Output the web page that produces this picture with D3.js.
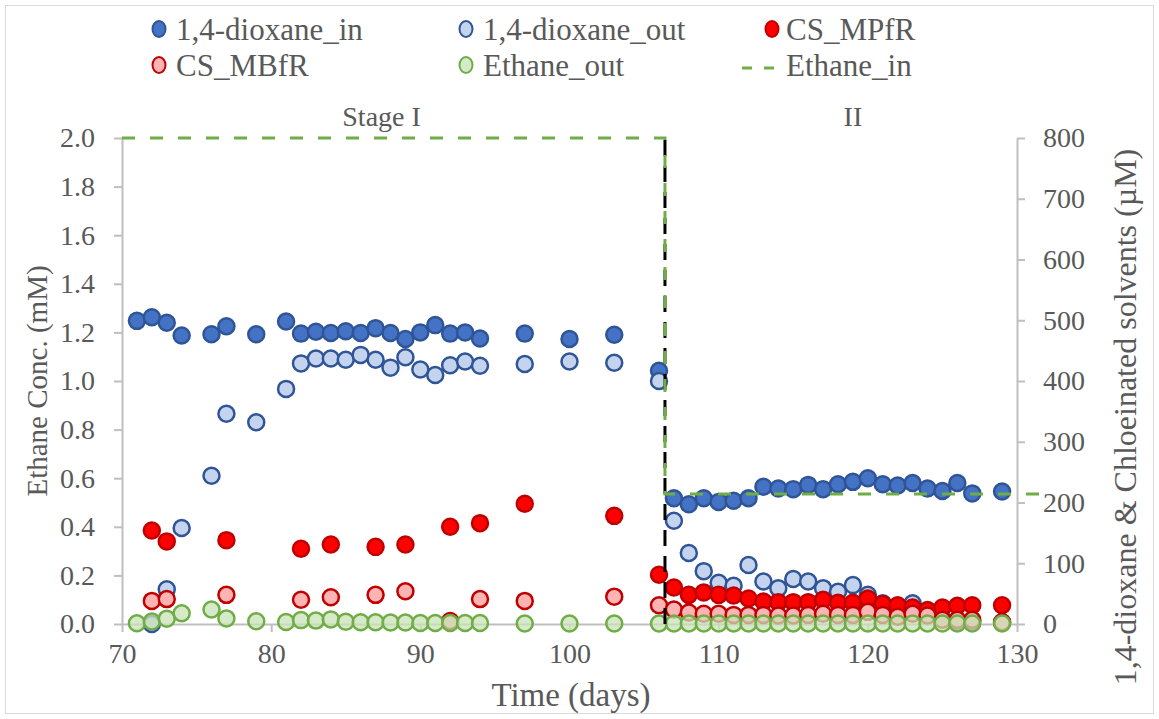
<!DOCTYPE html>
<html>
<head>
<meta charset="utf-8">
<script src="https://cdn.jsdelivr.net/npm/d3@7"></script>
<style>
  body { margin: 0; background: #fff; }
</style>
</head>
<body>
<svg id="chart" width="1159" height="719"></svg>
<script>
// ---------- data ----------
const dioxaneInDays = [71,72,73,74,76,77,79,81,82,83,84,85,86,87,88,89,90,91,92,93,94,97,100,103,106,
  107,108,109,110,111,112,113,114,115,116,117,118,119,120,121,122,123,124,125,126,127,129];
const dioxaneInVals = [499,505,496,475,477,490,477,498,478,481,479,482,479,487,479,469,480,492,478,480,470,478,469,476,417,
  207,197,207,201,203,207,226,223,222,229,222,230,234,240,230,228,232,223,219,232,215,218];

const dioxaneOutDays = [72,73,74,76,77,79,81,82,83,84,85,86,87,88,89,90,91,92,93,94,97,100,103,106,
  107,108,109,110,111,112,113,114,115,116,117,118,119,120,121,122,123,124,125,126,127,129];
const dioxaneOutVals = [0,57,158,244,346,332,387,429,437,437,435,443,435,422,439,419,410,426,432,425,428,432,430,400,
  170,117,87,68,63,97,70,59,74,70,59,53,64,48,34,28,34,20,8,5,5,3];

const csMPfRDays = [72,73,77,82,84,87,89,92,94,97,103,106,
  107,108,109,110,111,112,113,114,115,116,117,118,119,120,121,122,123,124,125,126,127,129];
const csMPfRVals = [154,136,138,124,131,127,131,160,166,198,178,81,
  60,48,52,48,47,42,37,36,36,36,40,35,35,42,33,31,27,23,27,30,31,31];

const csMBfRDays = [72,73,77,82,84,87,89,92,94,97,103,106,
  107,108,109,110,111,112,113,114,115,116,117,118,119,120,121,122,123,124,125,126,127,129];
const csMBfRVals = [38,41,48,40,44,48,54,5,41,38,45,31,
  24,19,17,17,15,15,15,14,14,15,17,15,15,20,15,12,17,14,7,7,7,3];

const ethaneOutDays = [71,72,73,74,76,77,79,81,82,83,84,85,86,87,88,89,90,91,92,93,94,97,100,103,106,
  107,108,109,110,111,112,113,114,115,116,117,118,119,120,121,122,123,124,125,126,127,129];
const ethaneOutVals = [0.003,0.010,0.022,0.044,0.060,0.023,0.011,0.008,0.016,0.014,0.019,0.009,0.007,0.007,0.006,0.006,0.004,0.004,0.004,0.004,0.004,0.002,0.002,0.002,0.002,
  0.002,0.002,0.002,0.002,0.002,0.002,0.002,0.002,0.002,0.002,0.002,0.002,0.002,0.002,0.002,0.002,0.002,0.002,0.002,0.002,0.002,0.002];

const ethaneInDays = [70,106.4,106.4,131.7];
const ethaneInVals = [2.0,2.0,0.535,0.535];

const stageBoundaryDay = 106.4;
const stageLabels = ["Stage I","II"];
const stageLabelDays = [87.4, 119.0];

const xTicks = [70,80,90,100,110,120,130];
const yLeftTicks = [0,0.2,0.4,0.6,0.8,1.0,1.2,1.4,1.6,1.8,2.0];
const yRightTicks = [0,100,200,300,400,500,600,700,800];

const seriesNames = ["1,4-dioxane_in","1,4-dioxane_out","CS_MPfR","CS_MBfR","Ethane_out","Ethane_in"];

// ---------- layout ----------
const FONT = "'Liberation Serif'";
const TXT = "#595959";
const svg = d3.select("#chart");
const X0 = 122, X1 = 1017, Y0 = 624, Y1 = 138;
const x = d3.scaleLinear().domain([70,130]).range([X0,X1]);
const yL = d3.scaleLinear().domain([0,2]).range([Y0,Y1]);
const yR = d3.scaleLinear().domain([0,800]).range([Y0,Y1]);

svg.append("rect").attr("x",5.5).attr("y",5.5).attr("width",1148).attr("height",708)
  .attr("fill","#fff").attr("stroke","#d9d9d9").attr("stroke-width",1);

const axisColor = "#bfbfbf";
function styleAxis(g, size) {
  g.attr("font-family", null).attr("font-size", null);
  g.select(".domain").attr("stroke", axisColor).attr("stroke-width", 2);
  g.selectAll(".tick line").attr("stroke", axisColor).attr("stroke-width", 2);
  g.selectAll(".tick text").style("font-size", size + "px").style("fill", TXT)
    .style("font-family", FONT);
}

const gL = svg.append("g").attr("transform", `translate(${X0},0)`)
  .call(d3.axisLeft(yL).tickValues(yLeftTicks).tickFormat(d3.format(".1f")).tickSize(8).tickSizeOuter(0).tickPadding(19));
styleAxis(gL, 28);
const gR = svg.append("g").attr("transform", `translate(${X1},0)`)
  .call(d3.axisRight(yR).tickValues(yRightTicks).tickSize(8).tickSizeOuter(0).tickPadding(18));
styleAxis(gR, 28);
const gB = svg.append("g").attr("transform", `translate(0,${Y0})`)
  .call(d3.axisBottom(x).tickValues(xTicks).tickSize(8).tickSizeOuter(0).tickPadding(11));
styleAxis(gB, 28);

function addText(sel) {
  return sel.append("text").style("font-family", FONT).style("fill", TXT);
}

// axis titles
addText(svg).attr("transform","translate(37,381) rotate(-90)").attr("text-anchor","middle")
  .attr("dy","0.35em").style("font-size","29px").text("Ethane Conc. (mM)");
addText(svg).attr("transform","translate(1125,417) rotate(-90)").attr("text-anchor","middle")
  .attr("dy","0.35em").style("font-size","32px").text("1,4-dioxane & Chloeinated solvents (µM)");
addText(svg).attr("x",571).attr("y",706).attr("text-anchor","middle")
  .style("font-size","33px").text("Time (days)");

// stage labels
stageLabels.forEach((s, i) => {
  addText(svg).attr("x", x(stageLabelDays[i])).attr("y", 126).attr("text-anchor","middle")
    .style("font-size","28px").text(s);
});

// ---------- marks ----------
const R = 8;
function drawPoints(days, vals, yScale, st) {
  svg.append("g").selectAll("circle").data(days).join("circle")
    .attr("cx", d => x(d)).attr("cy", (d,i) => yScale(vals[i])).attr("r", R)
    .attr("fill", st.fill).attr("fill-opacity", st.op).attr("stroke", st.stroke).attr("stroke-width", 2.5);
}
const styles = [
  {fill:"#4472c4", stroke:"#2f5597", op:1},
  {fill:"#c5d4ee", stroke:"#2f5597", op:1},
  {fill:"#ff0000", stroke:"#c00000", op:1},
  {fill:"#ffb3b3", stroke:"#c00000", op:1},
  {fill:"#c8e2b6", stroke:"#70ad47", op:0.75}
];
drawPoints(dioxaneInDays, dioxaneInVals, yR, styles[0]);
drawPoints(dioxaneOutDays, dioxaneOutVals, yR, styles[1]);
drawPoints(csMPfRDays, csMPfRVals, yR, styles[2]);
drawPoints(csMBfRDays, csMBfRVals, yR, styles[3]);
drawPoints(ethaneOutDays, ethaneOutVals, yL, styles[4]);

// stage boundary (black dashed)
svg.append("line").attr("x1",x(stageBoundaryDay)).attr("x2",x(stageBoundaryDay))
  .attr("y1",yL(0)).attr("y2",yL(2))
  .attr("stroke","#000").attr("stroke-width",3).attr("stroke-dasharray","16,10");

// Ethane_in dashed line
const line = d3.line().x((d,i)=>x(ethaneInDays[i])).y((d,i)=>yL(ethaneInVals[i]));
svg.append("path").attr("d", line(ethaneInDays)).attr("fill","none")
  .attr("stroke","#70ad47").attr("stroke-width",3).attr("stroke-dasharray","13,15");

// ---------- legend ----------
const legCols = [159, 466, 772];
const legText = [176, 483, 786];
const legRows = [29, 65];
const lg = svg.append("g");
seriesNames.forEach((name, i) => {
  const col = i % 3, row = Math.floor(i / 3);
  const cy = legRows[row];
  if (i < 5) {
    lg.append("ellipse").attr("cx", legCols[col]).attr("cy", cy).attr("rx", 6.5).attr("ry", 8)
      .attr("fill", styles[i].fill).attr("fill-opacity", styles[i].op)
      .attr("stroke", styles[i].stroke).attr("stroke-width", 2);
  } else {
    lg.append("line").attr("x1", 742).attr("x2", 776).attr("y1", cy + 3).attr("y2", cy + 3)
      .attr("stroke","#70ad47").attr("stroke-width",3).attr("stroke-dasharray","10,12");
  }
  addText(lg).attr("x", legText[col]).attr("y", cy).attr("dy","0.35em")
    .style("font-size", "31px").text(name);
});
</script>
</body>
</html>
